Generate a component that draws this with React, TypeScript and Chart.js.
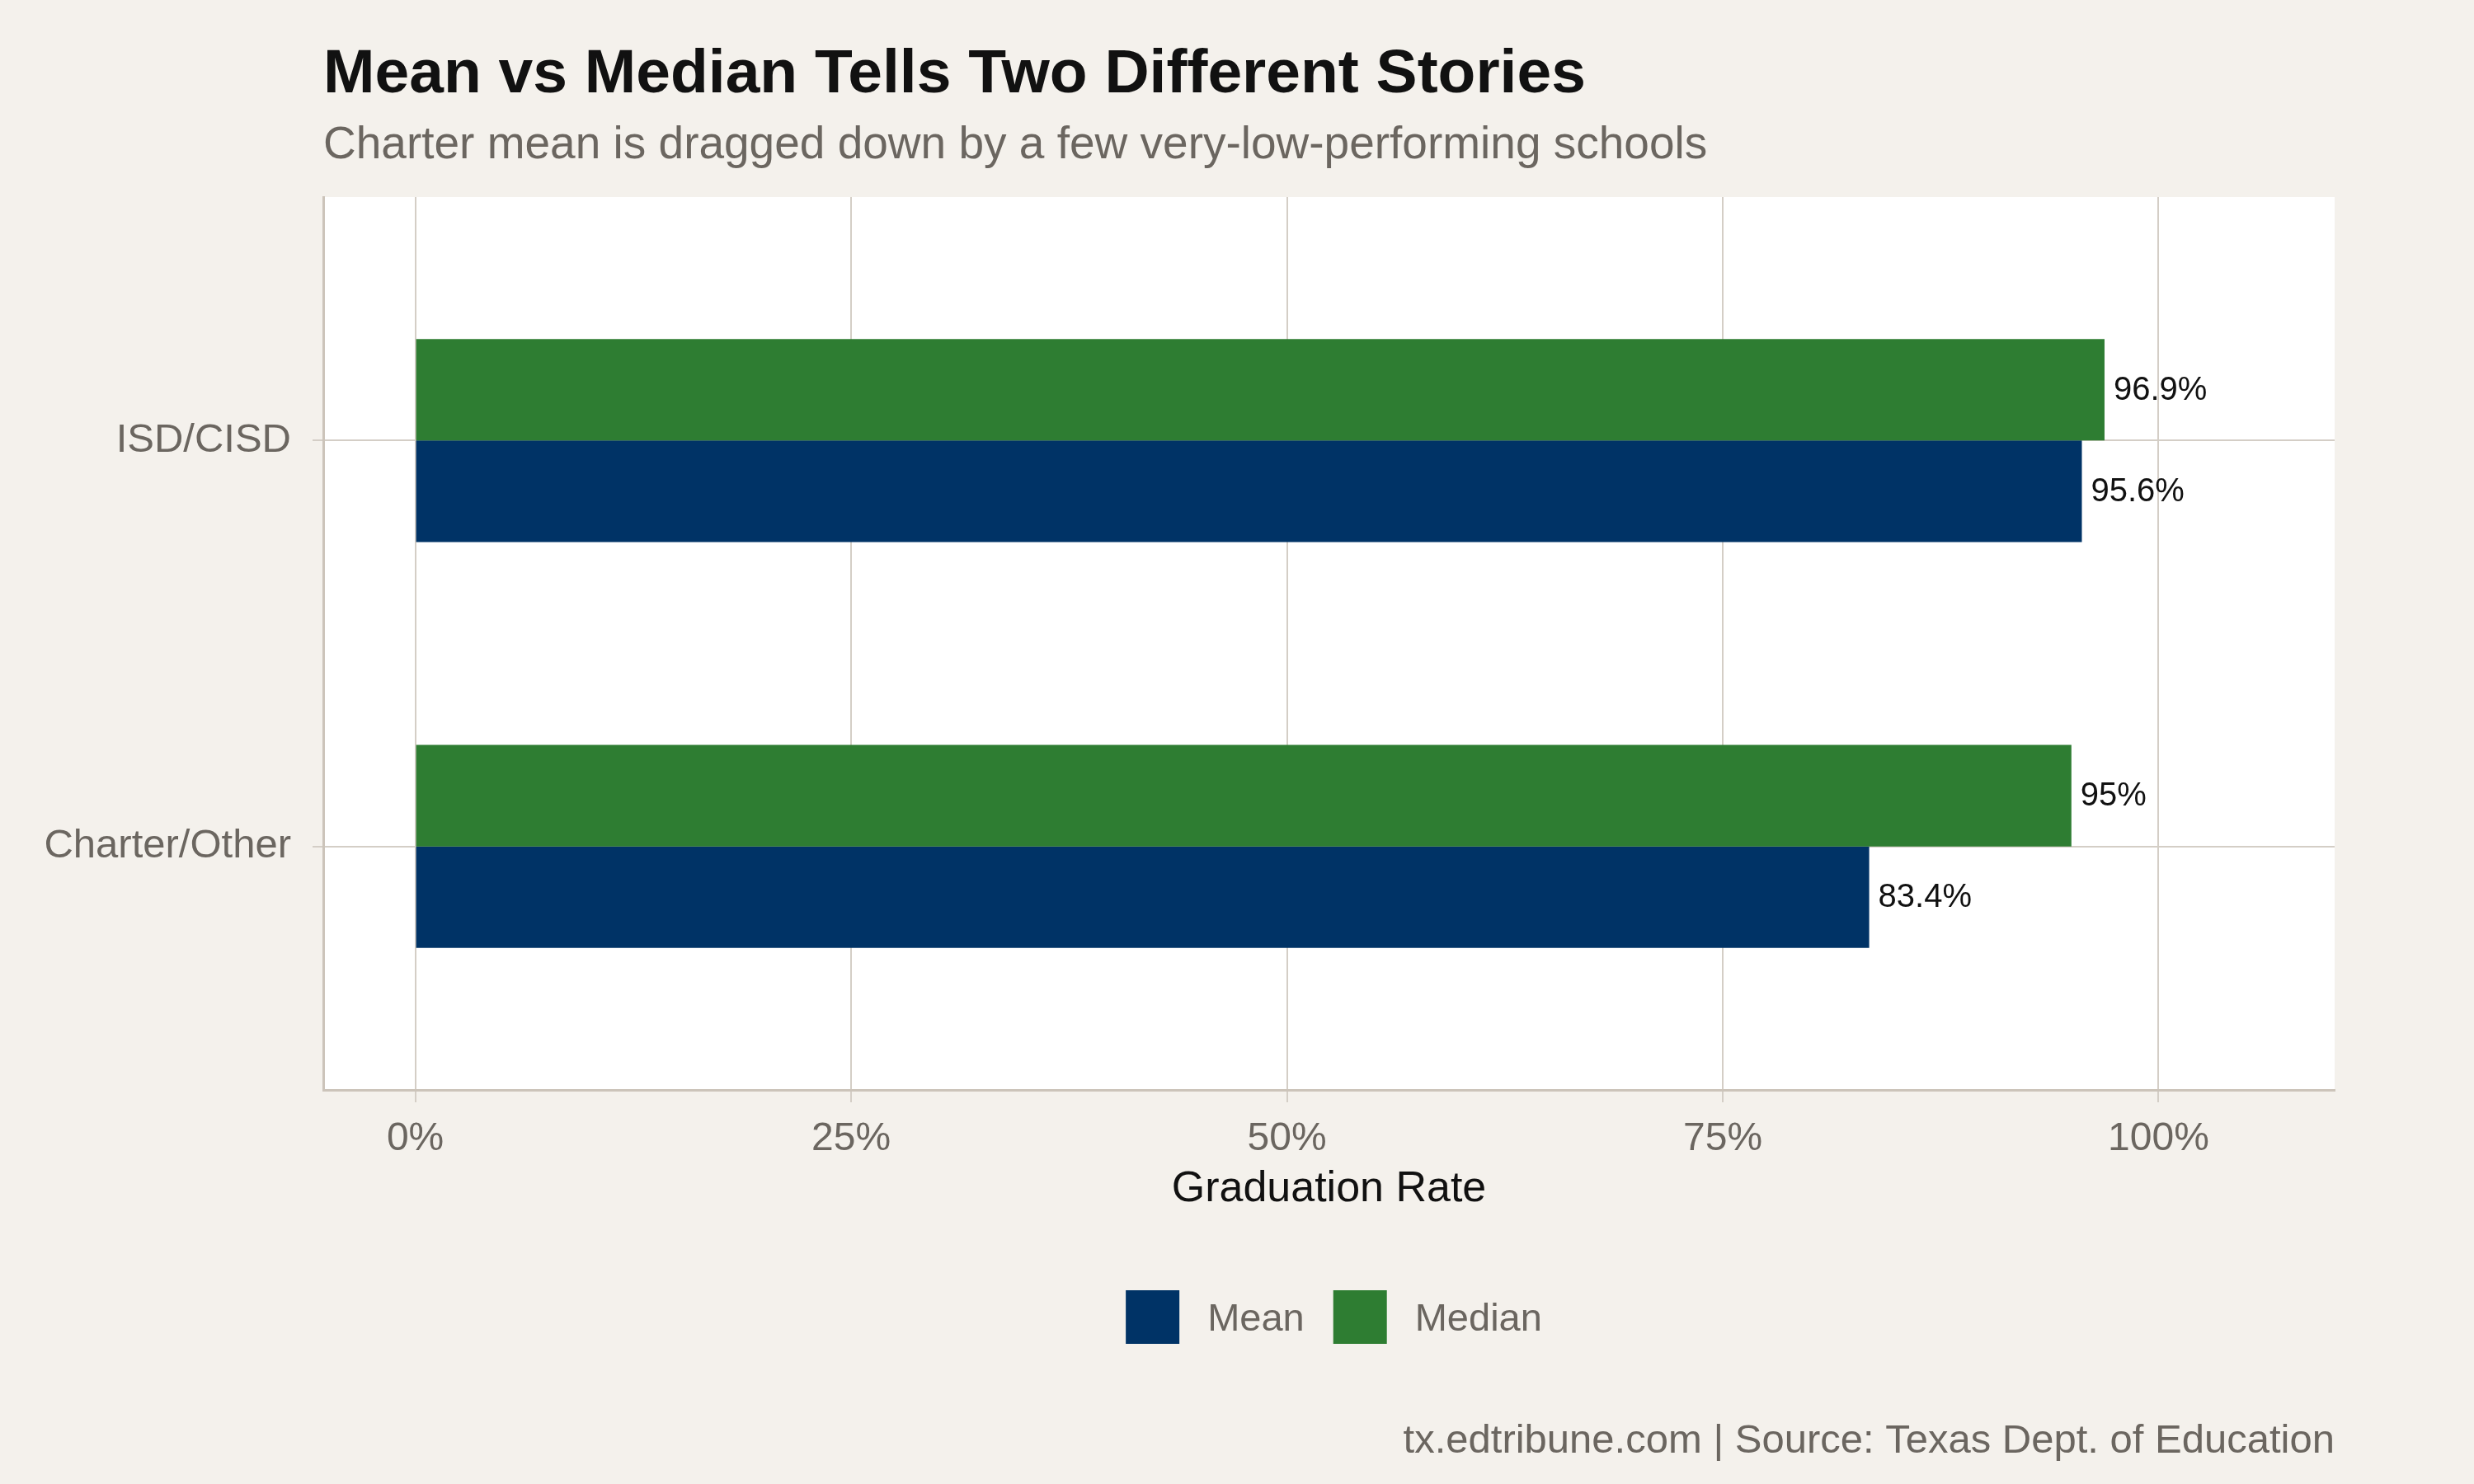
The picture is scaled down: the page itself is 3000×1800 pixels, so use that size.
import React, { useEffect, useRef } from 'react';
import { Chart, registerables } from 'chart.js';

Chart.register(...registerables);

// ---- Data ----
const categories = ['ISD/CISD', 'Charter/Other'];
const seriesNames = ['Median', 'Mean'];
const medianValues = [96.9, 95.0];
const meanValues = [95.6, 83.4];
const seriesValues = [medianValues, meanValues];
const seriesColors = ['#2e7d32', '#003366'];
const legendOrder = ['Mean', 'Median'];
const xTickValues = [0, 25, 50, 75, 100];
const xTickLabels = ['0%', '25%', '50%', '75%', '100%'];

const TITLE = 'Mean vs Median Tells Two Different Stories';
const SUBTITLE = 'Charter mean is dragged down by a few very-low-performing schools';
const X_TITLE = 'Graduation Rate';
const CAPTION = 'tx.edtribune.com | Source: Texas Dept. of Education';

const FONT = '"Liberation Sans", Arial, Helvetica, sans-serif';
const BG = '#f4f1ec';
const GREY_TEXT = '#6b6660';
const GRID = '#d4cec6';
const AXIS = '#ccc4ba';

const decorPlugin = {
  id: 'decor',
  beforeDraw(chart: any) {
    const { ctx, chartArea: a } = chart;
    ctx.save();
    ctx.fillStyle = BG;
    ctx.fillRect(0, 0, chart.width, chart.height);
    ctx.fillStyle = '#ffffff';
    ctx.fillRect(a.left, a.top, a.right - a.left, a.bottom - a.top);
    ctx.restore();
  },
  afterDatasetsDraw(chart: any) {
    const { ctx } = chart;
    ctx.save();
    ctx.font = `40px ${FONT}`;
    ctx.fillStyle = '#111111';
    ctx.textAlign = 'left';
    ctx.textBaseline = 'middle';
    chart.data.datasets.forEach((ds: any, di: number) => {
      const meta = chart.getDatasetMeta(di);
      meta.data.forEach((el: any, i: number) => {
        const v = ds.data[i].x;
        ctx.fillText(`${v}%`, el.x + 11, el.y + 1);
      });
    });
    ctx.restore();
  },
  afterDraw(chart: any) {
    const { ctx, chartArea: a } = chart;
    ctx.save();
    // Title
    ctx.textAlign = 'left';
    ctx.textBaseline = 'alphabetic';
    ctx.fillStyle = '#111111';
    ctx.font = `bold 75px ${FONT}`;
    ctx.fillText(TITLE, a.left, 112);
    // Subtitle
    ctx.fillStyle = GREY_TEXT;
    ctx.font = `55px ${FONT}`;
    ctx.fillText(SUBTITLE, a.left, 192);
    // Legend
    const box = 65;
    const gapText = 34;
    const gapItem = 35;
    ctx.font = `47px ${FONT}`;
    const items = legendOrder.map((name) => {
      const idx = seriesNames.indexOf(name);
      return { name, color: seriesColors[idx], w: ctx.measureText(name).width };
    });
    const total = items.reduce((s, it) => s + box + gapText + it.w, 0) + gapItem * (items.length - 1);
    let x = (a.left + a.right) / 2 - total / 2 + 6;
    const cy = 1597.5;
    items.forEach((it) => {
      ctx.fillStyle = it.color;
      ctx.fillRect(x, cy - box / 2, box, box);
      ctx.fillStyle = GREY_TEXT;
      ctx.textBaseline = 'alphabetic';
      ctx.fillText(it.name, x + box + gapText, 1614);
      x += box + gapText + it.w + gapItem;
    });
    // Caption
    ctx.textAlign = 'right';
    ctx.font = `49px ${FONT}`;
    ctx.fillStyle = GREY_TEXT;
    ctx.fillText(CAPTION, a.right, 1762);
    ctx.restore();
  },
};

export default function App() {
  const ref = useRef<HTMLCanvasElement | null>(null);
  useEffect(() => {
    if (!ref.current) return;
    const n = categories.length;
    const chart = new Chart(ref.current, {
      type: 'bar',
      data: {
        datasets: seriesNames.map((name, si) => ({
          label: name,
          data: categories.map((_, i) => ({ x: seriesValues[si][i], y: n - i })),
          backgroundColor: seriesColors[si],
          borderWidth: 0,
          categoryPercentage: 0.5,
          barPercentage: 1,
        })),
      },
      options: {
        indexAxis: 'y',
        responsive: false,
        maintainAspectRatio: false,
        animation: false,
        layout: { padding: { top: 239, right: 169, bottom: 326, left: 0 } },
        plugins: {
          legend: { display: false },
          tooltip: { enabled: false },
          title: { display: false },
        },
        scales: {
          x: {
            type: 'linear',
            position: 'bottom',
            offset: false,
            min: -5.28,
            max: 110.1,
            afterBuildTicks: (s: any) => {
              s.ticks = xTickValues.map((v) => ({ value: v }));
            },
            afterFit: (s: any) => {
              s.height = 152;
            },
            ticks: {
              callback: (v: any) => xTickLabels[xTickValues.indexOf(Number(v))],
              font: { family: FONT, size: 48 },
              color: GREY_TEXT,
              padding: 16,
              maxRotation: 0,
              autoSkip: false,
            },
            grid: { color: GRID, lineWidth: 2, tickLength: 15, drawTicks: true, offset: false },
            border: { display: true, color: AXIS, width: 3 },
            title: {
              display: true,
              text: X_TITLE,
              font: { family: FONT, size: 52 },
              color: '#111111',
              padding: 0,
            },
          },
          y: {
            type: 'linear',
            position: 'left',
            offset: false,
            min: 0.4,
            max: n + 0.6,
            afterBuildTicks: (s: any) => {
              s.ticks = categories.map((_, i) => ({ value: n - i }));
            },
            afterFit: (s: any) => {
              s.width = 392;
            },
            ticks: {
              callback: (v: any) => categories[n - Math.round(Number(v))],
              font: { family: FONT, size: 49 },
              color: GREY_TEXT,
              padding: 26,
              autoSkip: false,
            },
            grid: { color: GRID, lineWidth: 2, tickLength: 13, drawTicks: true, offset: false },
            border: { display: true, color: AXIS, width: 3 },
          },
        },
      } as any,
      plugins: [decorPlugin],
    });
    return () => chart.destroy();
  }, []);
  return (
    <div style={{ position: 'absolute', left: 0, top: 0, width: 3000, height: 1800 }}>
      <canvas ref={ref} width={3000} height={1800} style={{ display: 'block', width: 3000, height: 1800 }} />
    </div>
  );
}
